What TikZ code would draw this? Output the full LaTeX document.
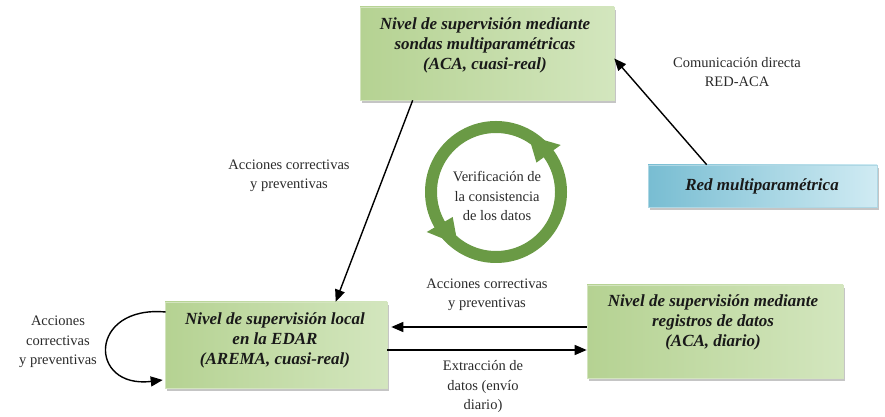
\documentclass[tikz,border=0pt]{standalone}
\usepackage{fontspec}
\setmainfont{Liberation Serif}
\usetikzlibrary{arrows.meta,calc,shadows}
\definecolor{gA}{HTML}{B5D292}
\definecolor{gB}{HTML}{D3E6BE}
\definecolor{bA}{HTML}{78BDD2}
\definecolor{bB}{HTML}{D0EBF3}
\definecolor{ring}{HTML}{6A9A45}
\definecolor{txt}{HTML}{2A2A2A}
\tikzset{
 gbox/.style={rectangle, inner sep=0pt, draw=gA!60!white, line width=0.6pt, left color=gA, right color=gB,
   drop shadow={shadow xshift=2pt,shadow yshift=-3pt,fill=black!45}},
 bbox/.style={rectangle, inner sep=0pt, draw=bA!60!white, line width=0.6pt, left color=bA, right color=bB,
   drop shadow={shadow xshift=2pt,shadow yshift=-3pt,fill=black!45}},
 boxtext/.style={font=\fontsize{17}{20}\selectfont\bfseries\itshape, align=center, text=black!90, inner sep=0pt},
 lbl/.style={font=\fontsize{14.5}{19.5}\selectfont, text=txt, align=center, inner sep=0pt},
 conn/.style={line width=1.4pt, -{Triangle[length=12pt,width=10pt]}},
}
\begin{document}
\begin{tikzpicture}[x=1pt,y=1pt]
\useasboundingbox (0,0) rectangle (885,417);
% boxes
\node[gbox, minimum width=254pt, minimum height=93pt] (top) at (487,363.5) {};
\node[boxtext] (ttop) at (485,372) {Nivel de supervisión mediante\\sondas multiparamétricas\\(ACA, cuasi-real)};
\node[bbox, minimum width=229pt, minimum height=42pt] (red) at (762.5,231) {};
\node[boxtext] (tred) at (762,231) {Red multiparamétrica};
\node[gbox, minimum width=222pt, minimum height=86pt] (loc) at (276,72) {};
\node[boxtext] (tloc) at (275,77) {Nivel de supervisión local\\en la EDAR\\(AREMA, cuasi-real)};
\node[gbox, minimum width=256pt, minimum height=93pt] (reg) at (715,85.5) {};
\node[boxtext] (treg) at (713,95) {Nivel de supervisión mediante\\registros de datos\\(ACA, diario)};
% cycle ring
\coordinate (c) at (496,225);
\draw[ring, line width=12pt] (c) circle[radius=65];
\fill[ring] ($(c)+(36:50)$) -- ($(c)+(36:80)$) -- ($(c)+(60:65)$) -- cycle;
\fill[ring] ($(c)+(210:50)$) -- ($(c)+(210:80)$) -- ($(c)+(234:65)$) -- cycle;
\node[lbl] (tcyc) at (497,221) {Verificación de\\la consistencia\\de los datos};
% connectors
\draw[conn] ([xshift=53pt]top.south west) -- ([xshift=171pt]loc.north west);
\draw[conn] ([xshift=59pt]red.north west) -- ([yshift=-5pt]top.east);
\draw[conn] ([yshift=4.5pt]reg.west) -- ([yshift=18pt,xshift=4pt]loc.east);
\draw[conn] ([yshift=-5pt]loc.east) -- ([yshift=-18.5pt]reg.west);
\draw[conn] ([yshift=33pt,xshift=1pt]loc.west) .. controls (88,112) and (88,28) .. ([yshift=-35pt,xshift=-2pt]loc.west);
% labels
\node[lbl] (l1) at (289,241) {Acciones correctivas\\y preventivas};
\node[lbl] (l2) at (737,345) {Comunicación directa\\RED-ACA};
\node[lbl] (l3) at (487,122) {Acciones correctivas\\y preventivas};
\node[lbl] (l4) at (483,30) {Extracción de\\datos (envío\\diario)};
\node[lbl] (l5) at (58,75) {Acciones\\correctivas\\y preventivas};
\end{tikzpicture}
\end{document}
